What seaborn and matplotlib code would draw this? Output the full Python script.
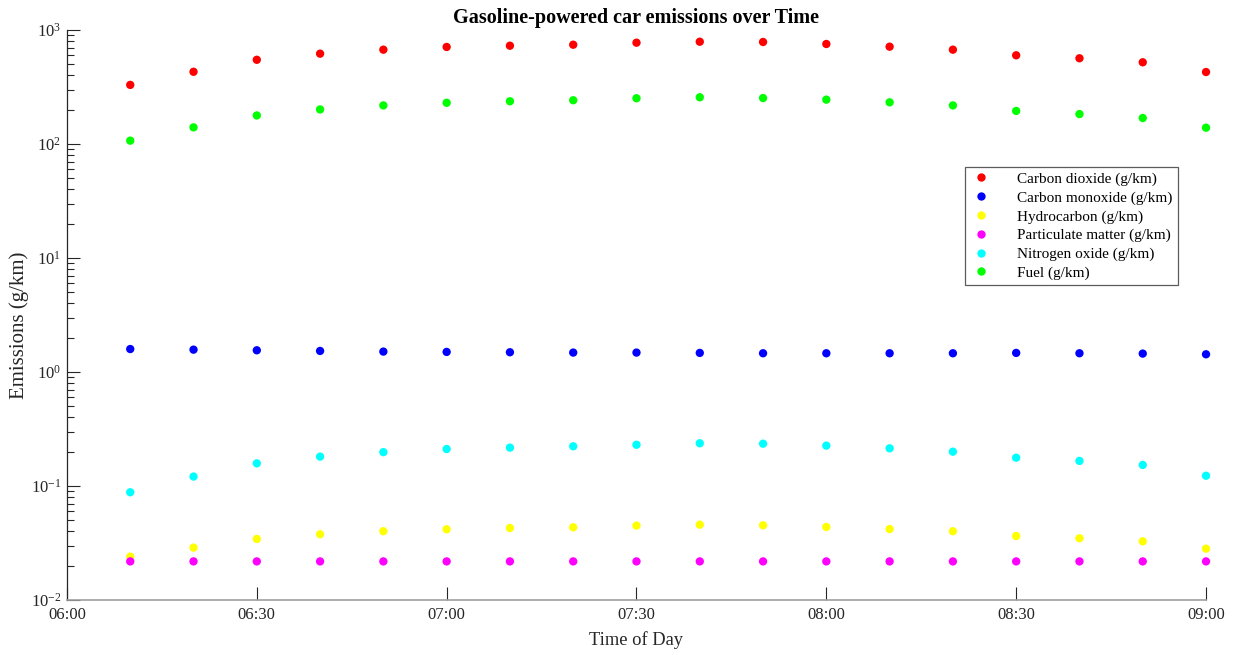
import matplotlib
matplotlib.use("Agg")
import matplotlib.pyplot as plt
import seaborn as sns
import pandas as pd
import numpy as np

# ---- data ----
times = ["06:10", "06:20", "06:30", "06:40", "06:50", "07:00", "07:10", "07:20", "07:30",
         "07:40", "07:50", "08:00", "08:10", "08:20", "08:30", "08:40", "08:50", "09:00"]
carbon_dioxide = [330, 430, 548, 620, 672, 710, 728, 743, 774, 789, 785, 754, 714, 672, 600, 565, 521, 428]
carbon_monoxide = [1.59, 1.57, 1.55, 1.53, 1.51, 1.50, 1.49, 1.48, 1.48, 1.47, 1.46, 1.46, 1.46, 1.46, 1.47, 1.46, 1.45, 1.43]
hydrocarbon = [0.0240, 0.0288, 0.0343, 0.0377, 0.0401, 0.0417, 0.0428, 0.0434, 0.0449, 0.0458, 0.0452, 0.0437, 0.0419, 0.0401, 0.0364, 0.0348, 0.0327, 0.0282]
particulate = [0.0218] * 18
nitrogen_oxide = [0.0881, 0.121, 0.158, 0.181, 0.198, 0.211, 0.217, 0.223, 0.230, 0.237, 0.235, 0.226, 0.214, 0.200, 0.177, 0.166, 0.153, 0.123]
fuel = [107, 140, 178, 201, 218, 230, 237, 242, 252, 257, 253, 245, 232, 218, 195, 183, 169, 139]

series_names = ["Carbon dioxide (g/km)", "Carbon monoxide (g/km)", "Hydrocarbon (g/km)",
                "Particulate matter (g/km)", "Nitrogen oxide (g/km)", "Fuel (g/km)"]
series_values = [carbon_dioxide, carbon_monoxide, hydrocarbon, particulate, nitrogen_oxide, fuel]
series_colors = ["#ff0000", "#0000ff", "#ffff00", "#ff00ff", "#00ffff", "#00ff00"]

x_tick_labels = ["06:00", "06:30", "07:00", "07:30", "08:00", "08:30", "09:00"]

def to_minutes(t):
    h, m = t.split(":")
    return int(h) * 60 + int(m) - 360

rows = []
for name, vals in zip(series_names, series_values):
    for t, v in zip(times, vals):
        rows.append({"minutes": to_minutes(t), "value": v, "series": name})
df = pd.DataFrame(rows)

# ---- style ----
sns.set_style("white")
plt.rcParams["font.family"] = ["Liberation Serif", "DejaVu Serif"]
plt.rcParams["mathtext.fontset"] = "custom"
plt.rcParams["mathtext.rm"] = "Liberation Serif"
plt.rcParams["mathtext.it"] = "Liberation Serif:italic"
plt.rcParams["mathtext.bf"] = "Liberation Serif:bold"
plt.rcParams["axes.unicode_minus"] = False

fig = plt.figure(figsize=(12.4, 6.55), dpi=100)
ax = fig.add_axes([0.054, 0.084, 0.9186, 0.8702])

sns.scatterplot(data=df, x="minutes", y="value", hue="series", hue_order=series_names,
                palette=series_colors, s=36, edgecolor="none", linewidth=0, ax=ax, legend=True)
for coll in ax.collections:
    coll.set_clip_on(False)

ax.set_yscale("log")
ax.set_ylim(1e-2, 1e3)
ax.set_xlim(0, 180)
ax.set_xticks([to_minutes(t) for t in x_tick_labels])
ax.set_xticklabels(x_tick_labels)
ax.yaxis.set_minor_locator(matplotlib.ticker.LogLocator(base=10, subs=np.arange(2, 10), numticks=20))
ax.yaxis.set_minor_formatter(matplotlib.ticker.NullFormatter())
ax.xaxis.set_minor_locator(matplotlib.ticker.NullLocator())

for side in ["top", "right"]:
    ax.spines[side].set_visible(False)
ax.spines["left"].set_color("#262626")
ax.spines["left"].set_linewidth(0.9)
ax.spines["bottom"].set_color("#a0a0a0")
ax.spines["bottom"].set_linewidth(1.2)

ax.tick_params(axis="both", which="both", bottom=True, left=True, top=False, right=False)
ax.tick_params(axis="both", which="major", direction="in", length=9.2, width=0.8,
               color="#262626", labelsize=12, labelcolor="#262626")
ax.tick_params(axis="y", which="minor", direction="in", length=4.8, width=0.8, color="#262626")
ax.tick_params(axis="y", which="major", pad=4)
ax.tick_params(axis="x", which="major", pad=5)

ax.set_xlabel("Time of Day", fontsize=13.3, color="#262626", labelpad=6)
ax.set_ylabel("Emissions (g/km)", fontsize=15, color="#262626")
ax.yaxis.set_label_coords(-0.033, 0.482)
ax.set_title("Gasoline-powered car emissions over Time", fontsize=14.5, fontweight="bold",
             color="black", pad=5)

leg = ax.legend(loc="upper left", bbox_to_anchor=(0.788, 0.760), borderaxespad=0,
                fancybox=False, frameon=True, fontsize=11, handletextpad=1.6,
                handlelength=1.5, borderpad=0.35, labelspacing=0.32, markerscale=1.0)
leg.get_frame().set_edgecolor("#333333")
leg.get_frame().set_linewidth(0.9)
for txt in leg.get_texts():
    txt.set_color("#000000")

fig.savefig("out.png", dpi=100)
